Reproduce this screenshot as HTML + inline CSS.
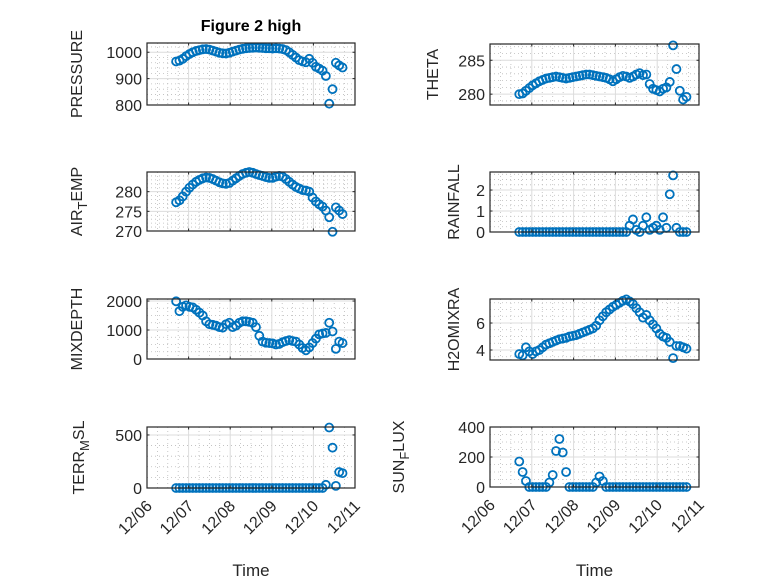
<!DOCTYPE html>
<html><head><meta charset="utf-8"><style>
html,body{margin:0;padding:0;background:#fff;}
svg{display:block;font-family:"Liberation Sans","DejaVu Sans",sans-serif;}
</style></head><body>
<svg id="fig" width="778" height="583" viewBox="0 0 778 583" xmlns="http://www.w3.org/2000/svg">
<rect width="778" height="583" fill="#fff"/>
<text x="251" y="31" text-anchor="middle" font-size="16" font-weight="bold" fill="#000">Figure 2 high</text>
</svg>
<script>
// shared time axis (days after 12/06)
const times = [0.70,0.78,0.86,0.94,1.02,1.10,1.18,1.26,1.34,1.42,1.50,1.58,1.66,1.74,1.82,1.90,1.98,2.06,2.14,2.22,2.30,2.38,2.46,2.54,2.62,2.70,2.78,2.86,2.94,3.02,3.10,3.18,3.26,3.34,3.42,3.50,3.58,3.66,3.74,3.82,3.90,3.98,4.06,4.14,4.22,4.30,4.38,4.46,4.54,4.62,4.70];
const xTickLabels = ["12/06","12/07","12/08","12/09","12/10","12/11"];
const pressure = [965,968,975,985,993,1000,1005,1008,1011,1012,1010,1006,1002,998,996,995,998,1002,1006,1010,1013,1015,1016,1017,1018,1017,1016,1015,1015,1014,1015,1014,1012,1008,1000,990,980,970,965,962,975,960,945,938,930,910,805,860,960,950,942];
const theta = [280,280.1,280.5,280.9,281.3,281.6,281.9,282.1,282.3,282.4,282.5,282.6,282.5,282.4,282.3,282.4,282.5,282.6,282.7,282.8,282.9,282.9,282.8,282.7,282.6,282.5,282.4,282.2,281.9,282.2,282.5,282.7,282.6,282.4,282.6,282.9,283.1,282.8,282.9,281.5,280.8,280.6,280.4,280.8,281.0,281.8,287.2,283.7,280.5,279.2,279.6];
const airTemp = [277.3,277.8,278.8,280,281,281.8,282.5,283,283.4,283.6,283.5,283.2,282.8,282.4,282.1,282,282.2,282.8,283.4,284,284.5,284.8,285,284.8,284.5,284.2,284,283.7,283.5,283.5,283.8,284,283.8,283.2,282.5,281.8,281.2,280.8,280.4,280.3,280,278.5,277.5,276.8,276.2,275.2,273.5,269.8,276,275.2,274.3];
const rainfall = [0,0,0,0,0,0,0,0,0,0,0,0,0,0,0,0,0,0,0,0,0,0,0,0,0,0,0,0,0,0,0,0,0,0.3,0.6,0.1,0,0.3,0.7,0.1,0.2,0.3,0.1,0.7,0.2,1.8,2.7,0.2,0,0,0];
const mixDepth = [1990,1650,1800,1850,1800,1780,1700,1600,1500,1300,1200,1180,1150,1100,1080,1200,1250,1100,1150,1250,1300,1300,1280,1250,1100,800,600,560,550,540,500,520,580,620,650,620,600,500,380,300,400,550,700,850,880,900,1250,950,350,600,550];
const h2oMix = [3.7,3.6,4.2,3.9,3.7,3.9,4.0,4.2,4.4,4.5,4.6,4.7,4.8,4.85,4.9,5.0,5.05,5.1,5.2,5.3,5.4,5.5,5.6,5.8,6.2,6.5,6.8,7.0,7.2,7.35,7.5,7.65,7.75,7.6,7.4,7.1,6.8,6.4,6.6,6.2,5.9,5.6,5.2,5.0,4.9,4.6,3.4,4.3,4.3,4.2,4.1];
const terrMsl = [0,0,0,0,0,0,0,0,0,0,0,0,0,0,0,0,0,0,0,0,0,0,0,0,0,0,0,0,0,0,0,0,0,0,0,0,0,0,0,0,0,0,0,0,0,30,570,380,20,150,140];
const sunFlux = [170,100,40,0,0,0,0,0,0,30,80,240,320,230,100,0,0,0,0,0,0,0,0,30,70,40,0,0,0,0,0,0,0,0,0,0,0,0,0,0,0,0,0,0,0,0,0,0,0,0,0];

const NS="http://www.w3.org/2000/svg";
const svg=document.getElementById('fig');
function mk(tag,attrs,parent){const e=document.createElementNS(NS,tag);for(const k in attrs)e.setAttribute(k,attrs[k]);(parent||svg).appendChild(e);return e;}

const panels=[
 {key:'pressure',data:pressure,x0:147,x1:355,y0:43,y1:105,ymin:800,ymax:1035,ticks:[800,900,1000],minor:20,label:['PRESSURE'],lx:82,bottom:false},
 {key:'theta',data:theta,x0:490,x1:699,y0:44,y1:105,ymin:278.4,ymax:287.4,ticks:[280,285],minor:1,label:['THETA'],lx:438,bottom:false},
 {key:'air-temp',data:airTemp,x0:147,x1:355,y0:172,y1:231,ymin:270,ymax:285,ticks:[270,275,280],minor:1,label:['AIR','T','EMP'],lx:82,bottom:false},
 {key:'rainfall',data:rainfall,x0:490,x1:699,y0:172,y1:232,ymin:0,ymax:2.86,ticks:[0,1,2],minor:0.25,label:['RAINFALL'],lx:459,bottom:false},
 {key:'mixdepth',data:mixDepth,x0:147,x1:355,y0:299,y1:359,ymin:0,ymax:2070,ticks:[0,1000,2000],minor:250,label:['MIXDEPTH'],lx:82,bottom:false},
 {key:'h2omixra',data:h2oMix,x0:490,x1:699,y0:299,y1:360,ymin:3.26,ymax:7.78,ticks:[4,6],minor:0.5,label:['H2OMIXRA'],lx:459,bottom:false},
 {key:'terr-msl',data:terrMsl,x0:147,x1:355,y0:427,y1:488,ymin:0,ymax:575,ticks:[0,500],minor:100,label:['TERR','M','SL'],lx:84,bottom:true},
 {key:'sun-flux',data:sunFlux,x0:490,x1:699,y0:427,y1:487,ymin:0,ymax:400,ticks:[0,200,400],minor:50,label:['SUN','F','LUX'],lx:404,bottom:true}
];

panels.forEach(p=>{
  const g=mk('g',{});
  
  
  const sx=t=>p.x0+(t-0)/(5-0)*(p.x1-p.x0);
  const sy=v=>p.y1-(v-p.ymin)/(p.ymax-p.ymin)*(p.y1-p.y0);
  mk('rect',{x:p.x0,y:p.y0,width:p.x1-p.x0,height:p.y1-p.y0,fill:'#fff'},g);
  for(let d=0;d<5;d+=0.25){ if(Math.abs(d-Math.round(d))<1e-6) continue; const x=sx(d);
    mk('line',{x1:x,x2:x,y1:p.y0,y2:p.y1,stroke:'#bbb','stroke-width':0.8,'stroke-dasharray':'1 3'},g);}
  const start=Math.ceil(p.ymin/p.minor)*p.minor;
  for(let v=start;v<=p.ymax+1e-9;v+=p.minor){ if(p.ticks.some(t=>Math.abs(t-v)<1e-6)) continue; const y=sy(v);
    mk('line',{x1:p.x0,x2:p.x1,y1:y,y2:y,stroke:'#bbb','stroke-width':0.8,'stroke-dasharray':'1 3'},g);}
  for(let d=1;d<5;d++){const x=sx(d);mk('line',{x1:x,x2:x,y1:p.y0,y2:p.y1,stroke:'#dcdcdc','stroke-width':1},g);}
  p.ticks.forEach(v=>{const y=sy(v);mk('line',{x1:p.x0,x2:p.x1,y1:y,y2:y,stroke:'#dcdcdc','stroke-width':1},g);});
  const sg=mk('g',{},g);
  
  
  p.data.forEach((v,i)=>{
    const c=mk('circle',{cx:sx(times[i]),cy:sy(v),r:4,fill:'none',stroke:'#0072BD','stroke-width':1.8},sg);
    
    
  });
  mk('rect',{x:p.x0,y:p.y0,width:p.x1-p.x0,height:p.y1-p.y0,fill:'none',stroke:'#262626','stroke-width':1.2},g);
  for(let d=0;d<=5;d++){const x=sx(d);
    mk('line',{x1:x,x2:x,y1:p.y1,y2:p.y1-2.5,stroke:'#262626'},g);
    mk('line',{x1:x,x2:x,y1:p.y0,y2:p.y0+2.5,stroke:'#262626'},g);
    if(p.bottom){
      const ax=x+6, ay=p.y1+19;
      const t=mk('text',{x:ax,y:ay,'text-anchor':'end','font-size':16,fill:'#262626',transform:`rotate(-45 ${ax} ${ay})`},g);
      t.textContent=xTickLabels[d];
      
      
    }
  }
  p.ticks.forEach(v=>{const y=sy(v);
    mk('line',{x1:p.x0,x2:p.x0+2.5,y1:y,y2:y,stroke:'#262626'},g);
    mk('line',{x1:p.x1,x2:p.x1-2.5,y1:y,y2:y,stroke:'#262626'},g);
    const t=mk('text',{x:p.x0-5,y:y+6,'text-anchor':'end','font-size':16,fill:'#262626'},g);
    t.textContent=String(v);
    
    
  });
  const cy=(p.y0+p.y1)/2;
  const lab=mk('text',{x:p.lx,y:cy,'text-anchor':'middle','font-size':16,fill:'#262626',transform:`rotate(-90 ${p.lx} ${cy})`},g);
  
  
  if(p.label.length===1){lab.textContent=p.label[0];}
  else{
    const a=mk('tspan',{},lab);a.textContent=p.label[0];
    const b=mk('tspan',{dy:5,'font-size':13},lab);b.textContent=p.label[1];
    const c=mk('tspan',{dy:-5},lab);c.textContent=p.label[2];
  }
  if(p.bottom){
    const xt=mk('text',{x:(p.x0+p.x1)/2,y:576,'text-anchor':'middle','font-size':17,fill:'#262626'},g);
    xt.textContent='Time';
    
    
  }
});
</script>
</body></html>
